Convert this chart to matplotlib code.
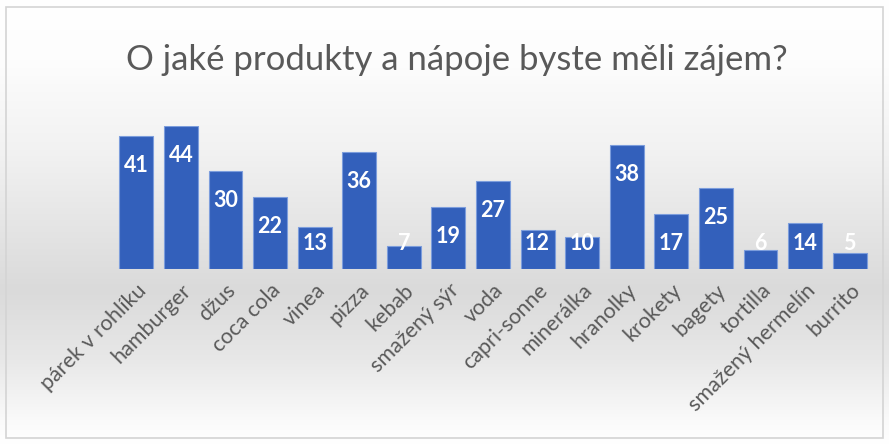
import numpy as np
import matplotlib
matplotlib.use("Agg")
import matplotlib.pyplot as plt
from matplotlib.patches import Rectangle

categories = ["párek v rohlíku", "hamburger", "džus", "coca cola", "vinea", "pizza",
              "kebab", "smažený sýr", "voda", "capri-sonne", "minerálka", "hranolky",
              "krokety", "bagety", "tortilla", "smažený hermelín", "burrito"]
values = [41, 44, 30, 22, 13, 36, 7, 19, 27, 12, 10, 38, 17, 25, 6, 14, 5]
title = "O jaké produkty a nápoje byste měli zájem?"

W, H = 889, 444
fig = plt.figure(figsize=(W / 100, H / 100), dpi=100)

# vertical background gradient (white -> light grey -> white)
bg = fig.add_axes([0, 0, 1, 1], zorder=-10)
stops_y = np.array([0, 60, 150, 290, 360, 420, 444])
stops_v = np.array([255, 253, 242, 218, 232, 250, 255]) / 255.0
rows = np.interp(np.arange(H), stops_y, stops_v)
grad = np.repeat(rows[:, None], 4, axis=1)
bg.imshow(np.dstack([grad, grad, grad]), aspect="auto", extent=[0, W, H, 0])
bg.set_xlim(0, W)
bg.set_ylim(H, 0)
bg.axis("off")
bg.add_patch(Rectangle((6, 7), W - 12, H - 13, fill=False, edgecolor="#d4d4d4", linewidth=1.2))

# plot area
n = len(categories)
ax = fig.add_axes([114 / W, 1 - 269 / H, (872 - 114) / W, (269 - 126) / H])
ax.set_facecolor("none")
x = np.arange(n)
ax.bar(x, values, width=0.76, color="#3360bb", edgecolor="#7c9ddc", linewidth=0.8, zorder=3)
ax.set_xlim(-0.5, n - 0.5)
ax.set_ylim(0, 44)
for s in ax.spines.values():
    s.set_visible(False)
ax.set_yticks([])
ax.set_xticks(x)
ax.set_xticklabels(categories, rotation=45, ha="right", va="top", rotation_mode="anchor",
                   fontsize=15.5, color="#595959", family=["Lato", "DejaVu Sans"])
ax.tick_params(axis="x", length=0, pad=8)

# value labels inside the bar ends
for xi, v in zip(x, values):
    ax.text(xi, max(v - 9.0, 8.0), str(v), ha="center", va="center", color="white",
            fontsize=15.5, fontweight="bold", family=["Lato", "DejaVu Sans"], zorder=5, clip_on=False)

fig.text(0.514, 1 - 60 / H, title, ha="center", va="center", fontsize=25,
         color="#595959", family=["Lato", "DejaVu Sans"])

fig.savefig("out.png", dpi=100)
